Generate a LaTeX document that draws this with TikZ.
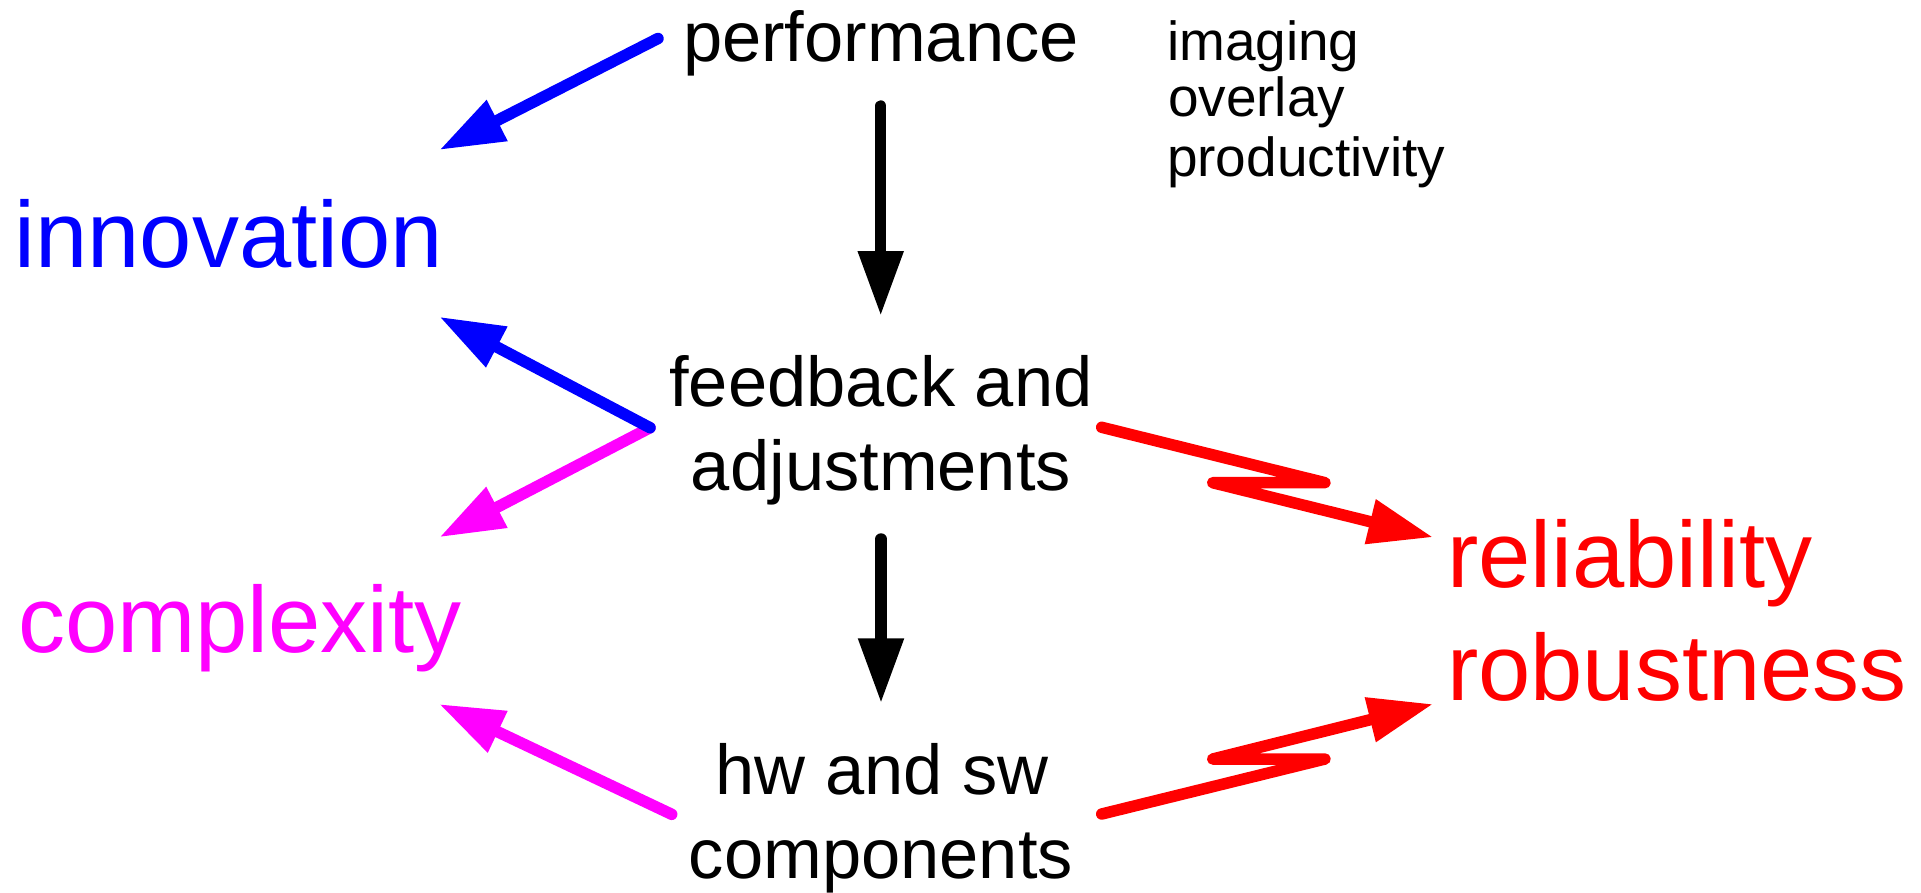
\documentclass[tikz,border=0pt]{standalone}
\usepackage{fontspec}
\setmainfont{Liberation Sans}
\usetikzlibrary{arrows.meta}
\definecolor{cblue}{RGB}{0,0,255}
\definecolor{cmag}{RGB}{255,0,255}
\definecolor{cred}{RGB}{255,0,0}
\begin{document}
\begin{tikzpicture}[x=1pt,y=-1pt,
  lbl/.style={inner sep=0pt, outer sep=0pt},
  bigtxt/.style={lbl,font=\fontsize{94}{112}\selectfont},
  midtxt/.style={lbl,font=\fontsize{70.5}{84}\selectfont},
  smalltxt/.style={lbl,font=\fontsize{55}{58}\selectfont},
  conn/.style={line width=11.5pt, line cap=round, line join=round,
    -{Triangle[length=65pt,width=43pt]}},
]
\useasboundingbox (0,0) rectangle (1921,892);

% texts
\node[midtxt,anchor=base] (perf) at (881,61.7) {performance};
\node[smalltxt,anchor=base west] (img) at (1167,60) {imaging};
\node[smalltxt,anchor=base west] (ovl) at (1168,116) {overlay};
\node[smalltxt,anchor=base west] (prod) at (1167,176.7) {productivity};
\node[bigtxt,anchor=base west,text=cblue] (inno) at (14.4,267.3) {innovation};
\node[bigtxt,anchor=base west,text=cmag] (cplx) at (18,652.7) {complexity};
\node[bigtxt,anchor=base west,text=cred] (rel) at (1447,587.3) {reliability};
\node[bigtxt,anchor=base west,text=cred] (rob) at (1447,700) {robustness};
\node[midtxt,anchor=base] (fb1) at (881,406.7) {feedback and};
\node[midtxt,anchor=base] (fb2) at (881,490.7) {adjustments};
\node[midtxt,anchor=base] (hw1) at (882,794) {hw and sw};
\node[midtxt,anchor=base] (hw2) at (881,878) {components};

% connector end points
\coordinate (pA) at (658,38.5);
\coordinate (iA) at (439.3,150);
\coordinate (pB) at (880.7,106);
\coordinate (fB) at (880.7,316);
\coordinate (fJ) at (650,427.7);
\coordinate (iB) at (439.3,316.7);
\coordinate (cA) at (439.3,537.3);
\coordinate (fC) at (881,539);
\coordinate (hB) at (881,703.3);
\coordinate (hJ) at (671.7,814.3);
\coordinate (cB) at (439,704);
\coordinate (ra1) at (1101.7,427.3);
\coordinate (ra2) at (1325,482.7);
\coordinate (ra3) at (1212.7,482.7);
\coordinate (ra4) at (1433.3,537.3);
\coordinate (rb1) at (1101.7,814);
\coordinate (rb2) at (1325,759);
\coordinate (rb3) at (1212.7,759);
\coordinate (rb4) at (1433.3,704);

% connectors
\draw[conn,cblue] (pA) -- (iA);
\draw[conn,black] (pB) -- (fB);
\draw[conn,cmag] (fJ) -- (cA);
\draw[conn,cblue] (fJ) -- (iB);
\draw[conn,black] (fC) -- (hB);
\draw[conn,cmag] (hJ) -- (cB);
\draw[conn,cred] (ra1) -- (ra2) -- (ra3) -- (ra4);
\draw[conn,cred] (rb1) -- (rb2) -- (rb3) -- (rb4);
\end{tikzpicture}
\end{document}
